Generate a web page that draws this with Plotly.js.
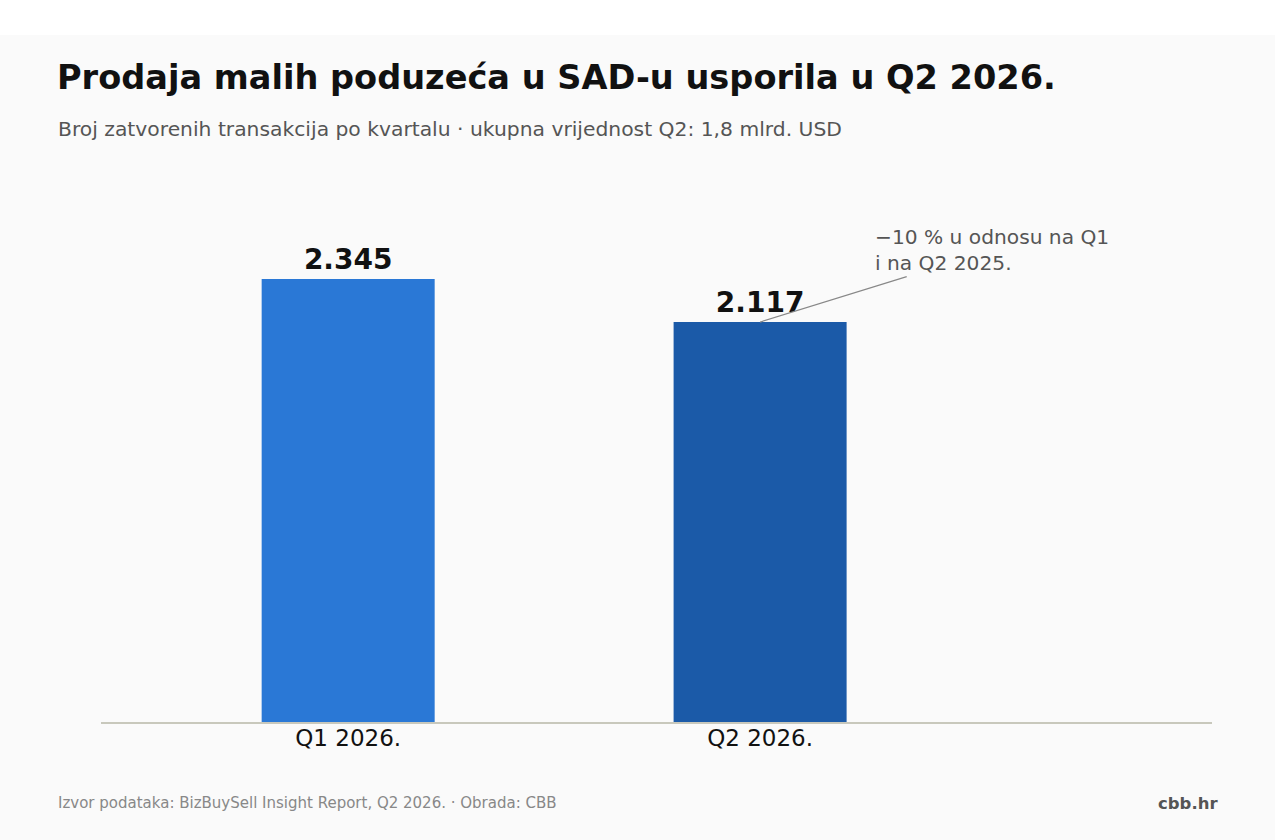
<!DOCTYPE html>
<html>
<head>
<meta charset="utf-8">
<script src="https://cdn.plot.ly/plotly-3.0.1.min.js"></script>
<style>
  html, body { margin: 0; padding: 0; background: #ffffff; }
  #chart { position: absolute; top: 35px; left: 0; width: 1275px; height: 805px; }
</style>
</head>
<body>
<div id="chart"></div>
<script>
// quarterly closed small-business deals (BizBuySell)
const quarters = ['Q1 2026.', 'Q2 2026.'];
const dealCounts = [2345, 2117];
const barColors = ['#2a78d6', '#1b5aa8'];

const titleText = 'Prodaja malih poduzeća u SAD-u usporila u Q2 2026.';
const subtitleText = 'Broj zatvorenih transakcija po kvartalu · ukupna vrijednost Q2: 1,8 mlrd. USD';
const noteText = '−10 % u odnosu na Q1<br>i na Q2 2025.';
const sourceText = 'Izvor podataka: BizBuySell Insight Report, Q2 2026. · Obrada: CBB';
const brandText = 'cbb.hr';

const FONT = 'DejaVu Sans, sans-serif';

const trace = {
    type: 'bar',
    x: quarters,
    y: dealCounts,
    width: 0.42,
    marker: { color: barColors, line: { width: 0 } },
    text: dealCounts,
    texttemplate: '%{y:,}',
    textposition: 'outside',
    cliponaxis: false,
    textfont: { family: FONT, size: 28, color: '#111111', weight: 'bold' },
    hoverinfo: 'skip'
};

const layout = {
    width: 1275,
    height: 805,
    separators: ',.',
    font: { family: FONT, color: '#111111' },
    paper_bgcolor: '#fafafa',
    plot_bgcolor: '#fafafa',
    margin: { l: 101, r: 63, t: 145, b: 118 },
    showlegend: false,
    title: {
        text: '<b>' + titleText + '</b>',
        x: 57 / 1275, xref: 'container', xanchor: 'left',
        y: 1 - 42 / 805, yref: 'container', yanchor: 'middle',
        font: { family: FONT, size: 33.6, color: '#111111' }
    },
    xaxis: {
        type: 'category',
        range: [-0.6, 2.097],
        showgrid: false,
        zeroline: false,
        showline: true,
        linecolor: '#c8c8bc',
        linewidth: 1.5,
        ticks: '',
        ticklabelstandoff: -5,
        tickfont: { family: FONT, size: 23, color: '#111111' }
    },
    yaxis: {
        range: [0, 2869],
        showgrid: false,
        zeroline: false,
        showticklabels: false,
        ticks: ''
    },
    annotations: [
        {
            text: subtitleText, showarrow: false,
            xref: 'paper', yref: 'paper',
            x: (56 - 101) / 1111, xanchor: 'left',
            y: 1 + (145 - 94) / 542, yanchor: 'middle',
            font: { family: FONT, size: 20.3, color: '#555555' }
        },
        {
            text: noteText, showarrow: true, arrowhead: 0, arrowwidth: 1.2, arrowcolor: '#888888',
            x: quarters[1], y: dealCounts[1], xref: 'x', yref: 'y',
            ax: 232, ay: -72, align: 'left',
            font: { family: FONT, size: 20.2, color: '#555555' }
        },
        {
            text: sourceText, showarrow: false,
            xref: 'paper', yref: 'paper',
            x: (56 - 101) / 1111, xanchor: 'left',
            y: -(768 - 687) / 542, yanchor: 'middle',
            font: { family: FONT, size: 15, color: '#888888' }
        },
        {
            text: '<b>' + brandText + '</b>', showarrow: false,
            xref: 'paper', yref: 'paper',
            x: (1220 - 101) / 1111, xanchor: 'right',
            y: -(768 - 687) / 542, yanchor: 'middle',
            font: { family: FONT, size: 16.5, color: '#555555' }
        }
    ]
};

Plotly.newPlot('chart', [trace], layout, { displayModeBar: false, staticPlot: true });
</script>
</body>
</html>
